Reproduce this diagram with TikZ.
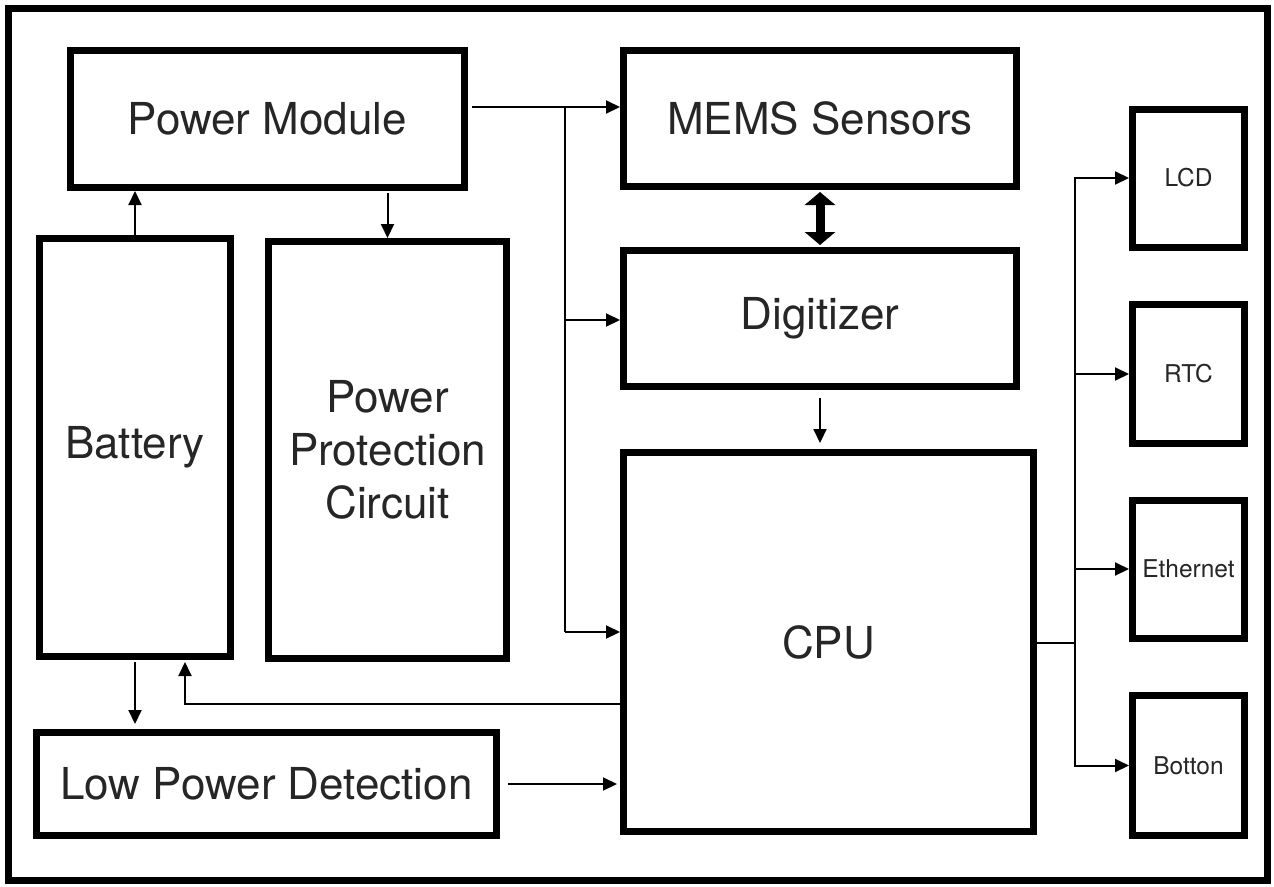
\documentclass[tikz,border=0pt]{standalone}
\usepackage{fontspec}
\setmainfont{TeX Gyre Heros}
\usetikzlibrary{arrows.meta,calc}
\definecolor{ink}{HTML}{262626}
\tikzset{
  blk/.style={draw=black, line width=7pt, fill=white, text=ink, align=center,
    inner sep=0pt, font=\fontsize{44}{53}\selectfont},
  smallblk/.style={blk, font=\fontsize{24.5}{28}\selectfont,
    minimum width=112pt, minimum height=138pt},
  arr/.style={draw=black, line width=2pt, -{Triangle[length=14pt,width=13pt]}},
  wire/.style={draw=black, line width=2pt},
  bigarr/.style={draw=black, line width=9pt,
    {Triangle[length=13pt,width=30pt]}-{Triangle[length=13pt,width=30pt]}},
}
\begin{document}
\begin{tikzpicture}[x=1pt,y=-1pt]
\useasboundingbox (0,0) rectangle (1274,886);
% outer frame
\draw[line width=7pt] (8.5,8.5) rectangle (1267.5,880.5);

% blocks (positions are centres, sizes measured at the line centre)
\node[blk, minimum width=394pt, minimum height=137pt] (pm)   at (267.5,119)  {Power Module};
\node[blk, minimum width=393pt, minimum height=136pt] (mems) at (820,118.5)  {MEMS Sensors};
\node[blk, minimum width=393pt, minimum height=136pt] (dig)  at (820,318.5)  {Digitizer};
\node[blk, minimum width=410pt, minimum height=379pt] (cpu)  at (828.5,642)  {CPU};
\node[blk, minimum width=191pt, minimum height=418pt] (bat)  at (135,447.5)  {Battery};
\node[blk, minimum width=238pt, minimum height=417pt] (ppc)  at (387.5,450)  {Power\\Protection\\Circuit};
\node[blk, minimum width=460pt, minimum height=103pt] (lpd)  at (266.5,784)  {Low Power Detection};
\node[smallblk] (lcd) at (1188.5,178)   {LCD};
\node[smallblk, minimum height=139pt] (rtc) at (1188.5,374)   {RTC};
\node[smallblk] (eth) at (1188.5,569)   {Ethernet};
\node[smallblk, minimum height=140pt] (btn) at (1188.5,765.5) {Botton};

% power distribution bus
\coordinate (bt) at (565,107);
\coordinate (bd) at (565,320);
\coordinate (bb) at (565,632);
\draw[arr, shorten <=4pt] (pm.east |- bt) -- (mems.west |- bt);
\draw[wire] (bt) -- (bb);
\draw[arr] (bd) -- (dig.west |- bd);
\draw[arr] (bb) -- (cpu.west |- bb);

% battery and power module
\draw[arr] (bat.north) -- (bat.north |- pm.south);
\draw[arr, shorten <=2pt] (ppc.north |- pm.south) -- (ppc.north);

% sensors and digitizer
\draw[bigarr, shorten <=2pt, shorten >=2pt] (mems.south) -- (dig.north);
\draw[arr, shorten <=8pt, shorten >=6pt] (dig.south) -- (dig.south |- cpu.north);

% feedback from CPU to battery
\coordinate (fb) at (185,704);
\draw[arr, shorten >=2pt] (cpu.west |- fb) -- (fb) -- (fb |- bat.south);

% battery to low power detection, and on to CPU
\draw[arr, shorten <=2pt, shorten >=5pt] (bat.south) -- (bat.south |- lpd.north);
\draw[arr, shorten <=8pt, shorten >=3pt] (lpd.east) -- (lpd.east -| cpu.west);

% CPU peripherals
\coordinate (pb) at (1075,643);
\draw[wire] (cpu.east |- pb) -- (pb);
\draw[arr] (pb) |- (lcd.west);
\draw[arr] (pb) |- (rtc.west);
\draw[arr] (pb) |- (eth.west);
\draw[arr] (pb) |- (btn.west);
\end{tikzpicture}
\end{document}
